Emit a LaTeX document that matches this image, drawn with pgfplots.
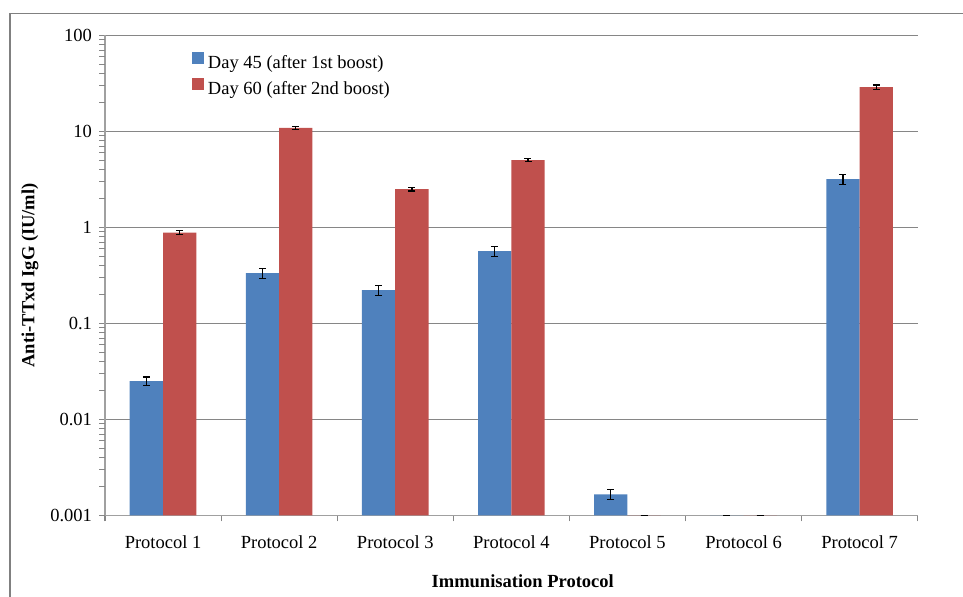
\documentclass[border=0pt]{standalone}
\usepackage{pgfplots}
\pgfplotsset{compat=1.18}
\usepackage{pgfplotstable}
\usepackage{fontspec}
\setmainfont{Liberation Serif}

\definecolor{dayblue}{HTML}{4F81BD}
\definecolor{dayred}{HTML}{C0504D}
\definecolor{gridgray}{HTML}{868686}
\definecolor{axisgray}{HTML}{A0A0A0}

% x = protocol index, d = mean titre (IU/ml), e = error
% zero titres are put at the axis floor (0.001) with no error
\pgfplotstableread{
x d45     e45     d60    e60
0 0.025   0.0026  0.88   0.04
1 0.334   0.038   10.9   0.43
2 0.222   0.025   2.50   0.10
3 0.566   0.064   5.02   0.20
4 0.00165 0.0002  0.001  0
5 0.001   0       0.001  0
6 3.18    0.36    29.0   1.5
}\titres

\begin{document}
\begin{tikzpicture}[font=\fontsize{9.25}{11}\selectfont]
\useasboundingbox (0,0) rectangle (481.5pt,298.5pt);
% chart area border, cut by the page edge
\draw[gray, line width=0.7pt] (5pt,-1pt) -- (5pt,291.85pt) -- (482pt,291.85pt);

\begin{axis}[
    at={(52.5pt,40.85pt)}, anchor=south west,
    scale only axis,
    width=406.35pt, height=239.9pt,
    ymode=log, log origin y=infty,
    ymin=0.001, ymax=100,
    xmin=-0.5, xmax=6.5,
    ybar=0pt, bar width=16.65pt,
    axis lines*=left,
    axis line style={axisgray, line width=0.7pt},
    ymajorgrids, grid style={gridgray, line width=0.6pt},
    ytick={0.001,0.01,0.1,1,10,100},
    yticklabels={0.001,0.01,0.1,1,10,100},
    tick align=outside,
    major tick length=3pt,
    tick style={gridgray, line width=0.6pt},
    xtick={-0.5,0.5,...,6.5},
    xticklabels={},
    extra x ticks={0,...,6},
    extra x tick labels={Protocol 1,Protocol 2,Protocol 3,Protocol 4,Protocol 5,Protocol 6,Protocol 7},
    extra x tick style={major tick length=0pt,
        xticklabel style={anchor=base, yshift=-16.4pt}},
    xlabel={\textbf{Immunisation Protocol}},
    xlabel style={at={(axis description cs:0.514,0)}, anchor=center, yshift=-32.85pt},
    ylabel={\textbf{Anti-TTxd IgG (IU/ml)}},
    ylabel style={at={(axis description cs:0,0.5)}, anchor=center, yshift=37.5pt},
    legend image code/.code={\fill[#1] (0pt,0pt) rectangle (6pt,6pt);},
    legend style={at={(axis description cs:0.107,0.968)}, anchor=north west,
        draw=none, fill=none, inner sep=0pt, row sep=0pt,
        nodes={text height=7pt, text depth=2.2pt, inner sep=1.8pt}},
    legend cell align=left,
    error bars/y dir=both, error bars/y explicit,
    error bars/error bar style={black, line width=0.6pt},
    error bars/error mark options={rotate=90, mark size=1.75pt, black, line width=0.6pt},
    % minor tick marks of the log axis, 2..9 in each decade
    after end axis/.code={
        \foreach \v in {0.002,0.003,0.004,0.005,0.006,0.007,0.008,0.009,
                        0.02,0.03,0.04,0.05,0.06,0.07,0.08,0.09,
                        0.2,0.3,0.4,0.5,0.6,0.7,0.8,0.9,
                        2,3,4,5,6,7,8,9,20,30,40,50,60,70,80,90}
            {\draw[gridgray, line width=0.6pt] (axis cs:-0.5,\v) -- ++(-2.5pt,0pt);}
    },
]
\addplot[fill=dayblue, draw=none] table[x=x, y=d45, y error=e45] {\titres};
\addlegendentry{Day 45 (after 1st boost)}
\addplot[fill=dayred, draw=none] table[x=x, y=d60, y error=e60] {\titres};
\addlegendentry{Day 60 (after 2nd boost)}
\end{axis}
\end{tikzpicture}
\end{document}
